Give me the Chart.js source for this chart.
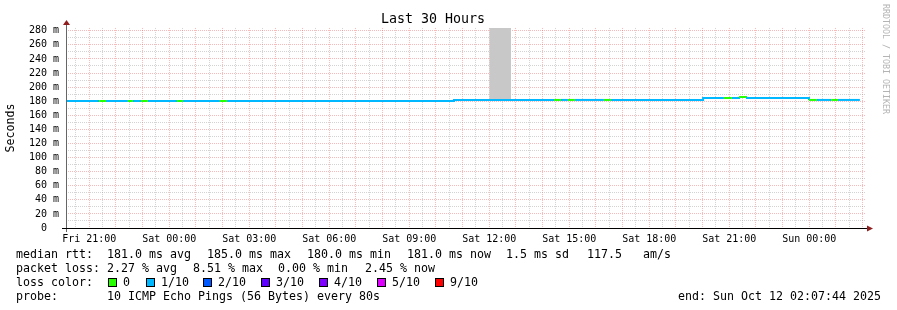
<!DOCTYPE html>
<html>
<head>
<meta charset="utf-8">
<script src="https://cdn.jsdelivr.net/npm/chart.js@4.4.1/dist/chart.umd.min.js"></script>
<style>
    html, body { margin: 0; padding: 0; background: #fff; }
    #wrap { position: relative; width: 897px; height: 310px; overflow: hidden; background: #fff; }
    #wrap canvas { position: absolute; left: 0; top: 0; }
    .t { position: absolute; font-family: 'DejaVu Sans Mono', monospace; font-size: 11.63px; line-height: 14px; white-space: pre; color: #000; }
    .sq { position: absolute; width: 7px; height: 7px; border: 1px solid #000; top: 278px; }
    #credit { position: absolute; left: 881px; top: 4px; writing-mode: vertical-rl; font-family: 'DejaVu Sans Mono', monospace; font-size: 8.3px; line-height: 10px; color: #b4b4b4; white-space: pre; }
</style>
</head>
<body>
<div id="wrap">
    <canvas id="chart" width="897" height="310"></canvas>
    <div id="legend"></div>
    <div id="credit">RRDTOOL / TOBI OETIKER</div>
</div>
<script>
// time is in hours since Fri 00:00
const startTime = 20 + 7 / 60 + 44 / 3600;   // Fri 20:07:44
const endTime = startTime + 30;               // Sun 02:07:44

// median rtt steps (ms) and how many of the 10 pings were lost
const segStart = [20.13, 21.37, 21.63, 22.45, 22.64, 22.94, 23.20, 24.29, 24.52, 25.90, 26.17,
                  34.68, 38.43, 38.69, 38.95, 39.22, 40.30, 40.57,
                  44.02, 44.80, 45.10, 45.37, 45.63,
                  47.99, 48.29, 48.82, 49.08];
const segEnd = 49.90;
const medianRtt = [180.3, 180.3, 180.3, 180.3, 180.3, 180.3, 180.3, 180.3, 180.3, 180.3, 180.3,
                   181.8, 181.8, 181.8, 181.8, 181.8, 181.8, 181.8,
                   184.6, 184.6, 184.6, 186.0, 184.6,
                   181.8, 181.8, 181.8, 181.8];
const lossLevel = [1, 0, 1, 0, 1, 0, 1, 0, 1, 0, 1,
                   1, 0, 1, 0, 1, 0, 1,
                   1, 0, 1, 0, 1,
                   0, 1, 0, 1];

// smoke that runs off the top of the graph
const smokeTimes = [36.00, 36.82];
const smokeLow = [181.8, 181.8];
const smokeHigh = [300, 300];

const lossLabels = ['0', '1/10', '2/10', '3/10', '4/10', '5/10', '9/10'];
const lossColors = ['#26ff00', '#00b8ff', '#0059ff', '#5e00ff', '#7e00ff', '#dd00ff', '#ff0000'];

const xTickLabels = ['Fri 21:00', 'Sat 00:00', 'Sat 03:00', 'Sat 06:00', 'Sat 09:00',
                     'Sat 12:00', 'Sat 15:00', 'Sat 18:00', 'Sat 21:00', 'Sun 00:00'];
const yTickLabels = ['0  ', '20 m', '40 m', '60 m', '80 m', '100 m', '120 m', '140 m',
                     '160 m', '180 m', '200 m', '220 m', '240 m', '260 m', '280 m'];

const rttStats = ['181.0 ms avg', '185.0 ms max', '180.0 ms min', '181.0 ms now', '1.5 ms sd', '117.5', 'am/s'];
const lossStats = ['2.27 % avg', '8.51 % max', '0.00 % min', '2.45 % now'];
const probeText = '10 ICMP Echo Pings (56 Bytes) every 80s';
const endText = 'end: Sun Oct 12 02:07:44 2025';

const MONO = "'DejaVu Sans Mono', monospace";
const majorGrid = 'rgba(235, 70, 70, 0.38)';
const minorGrid = 'rgba(140, 140, 140, 0.38)';

// legend below the graph
const legend = document.getElementById('legend');
const addText = (txt, x, y) => {
    const d = document.createElement('div');
    d.className = 't';
    d.textContent = txt;
    d.style.left = x + 'px';
    d.style.top = y + 'px';
    legend.appendChild(d);
};
addText('median rtt:', 16, 247);
[107, 207, 307, 407, 506, 587, 643].forEach((x, i) => addText(rttStats[i], x, 247));
addText('packet loss:', 16, 261);
[107, 193, 278, 365].forEach((x, i) => addText(lossStats[i], x, 261));
addText('loss color:', 16, 275);
[108, 146, 203, 261, 319, 377, 435].forEach((x, i) => {
    const sq = document.createElement('div');
    sq.className = 'sq';
    sq.style.left = x + 'px';
    sq.style.background = lossColors[i];
    legend.appendChild(sq);
    addText(lossLabels[i], x + 15, 275);
});
addText('probe:', 16, 289);
addText(probeText, 107, 289);
addText(endText, 678, 289);

// axis lines with the little arrow heads
const axisArrows = {
    id: 'axisArrows',
    afterDraw(chart) {
        const { ctx, chartArea: a } = chart;
        ctx.save();
        ctx.lineWidth = 1;
        ctx.strokeStyle = '#666';
        ctx.beginPath();
        ctx.moveTo(a.left + 0.5, a.bottom + 4);
        ctx.lineTo(a.left + 0.5, a.top - 3);
        ctx.stroke();
        ctx.strokeStyle = '#000';
        ctx.beginPath();
        ctx.moveTo(a.left - 4, a.bottom + 0.5);
        ctx.lineTo(a.right + 2, a.bottom + 0.5);
        ctx.stroke();
        ctx.fillStyle = '#8f1f1f';
        ctx.beginPath();
        ctx.moveTo(a.left - 3, a.top - 3);
        ctx.lineTo(a.left + 4, a.top - 3);
        ctx.lineTo(a.left + 0.5, a.top - 8);
        ctx.closePath();
        ctx.fill();
        ctx.beginPath();
        ctx.moveTo(a.right + 1, a.bottom - 2.5);
        ctx.lineTo(a.right + 1, a.bottom + 3.5);
        ctx.lineTo(a.right + 7, a.bottom + 0.5);
        ctx.closePath();
        ctx.fill();
        ctx.restore();
    }
};

// in Chart.js 'before' stepping each point's value holds until the next point
const medianPoints = segStart.map((t, i) => ({ x: t, y: medianRtt[i] }));
medianPoints.push({ x: segEnd, y: medianRtt[medianRtt.length - 1] });

new Chart(document.getElementById('chart'), {
    type: 'line',
    data: {
        datasets: [
            {
                label: 'median rtt',
                data: medianPoints,
                stepped: 'before',
                borderWidth: 2,
                borderColor: lossColors[1],
                borderCapStyle: 'butt',
                pointRadius: 0,
                fill: false,
                segment: {
                    borderColor: c => lossColors[lossLevel[c.p0DataIndex]]
                }
            },
            {
                label: 'smoke low',
                data: smokeTimes.map((t, i) => ({ x: t, y: smokeLow[i] })),
                borderWidth: 0,
                pointRadius: 0,
                fill: false
            },
            {
                label: 'smoke high',
                data: smokeTimes.map((t, i) => ({ x: t, y: smokeHigh[i] })),
                borderWidth: 0,
                pointRadius: 0,
                backgroundColor: '#c8c8c8',
                fill: '-1'
            }
        ]
    },
    options: {
        responsive: false,
        animation: false,
        layout: { padding: { left: 0, top: 0, right: 31, bottom: 62 } },
        plugins: {
            legend: { display: false },
            tooltip: { enabled: false },
            title: {
                display: true,
                text: 'Last 30 Hours',
                color: '#000',
                font: { family: MONO, size: 13.3, weight: 'normal', lineHeight: 1.2 },
                padding: { top: 12, bottom: 0 }
            }
        },
        scales: {
            x: {
                type: 'linear',
                min: startTime,
                max: endTime,
                afterBuildTicks: scale => {
                    const ticks = [];
                    for (let h = 20.5; h <= 50; h += 0.5) ticks.push({ value: h });
                    scale.ticks = ticks;
                },
                afterFit: scale => { scale.height = 20; },
                ticks: {
                    autoSkip: false,
                    maxRotation: 0,
                    padding: 5,
                    color: '#000',
                    font: { family: MONO, size: 10 },
                    callback: v => (Number.isInteger(v) && (v - 21) % 3 === 0) ? xTickLabels[(v - 21) / 3] : ''
                },
                grid: {
                    drawTicks: false,
                    color: c => Number.isInteger(c.tick.value) ? majorGrid : minorGrid
                },
                border: { display: false, dash: [1, 1] }
            },
            y: {
                min: 0,
                max: 284,
                afterBuildTicks: scale => {
                    const ticks = [];
                    for (let v = 0; v <= 280; v += 10) ticks.push({ value: v });
                    scale.ticks = ticks;
                },
                afterFit: scale => { scale.width = 66; },
                ticks: {
                    autoSkip: false,
                    padding: 7,
                    color: '#000',
                    font: { family: MONO, size: 10 },
                    callback: v => v % 20 === 0 ? yTickLabels[v / 20] : ''
                },
                grid: {
                    drawTicks: false,
                    color: c => c.tick.value === 0 ? 'rgba(0,0,0,0)' : (c.tick.value % 20 === 0 ? majorGrid : minorGrid)
                },
                border: { display: false, dash: [1, 1] },
                title: {
                    display: true,
                    text: 'Seconds',
                    color: '#000',
                    font: { family: MONO, size: 11.63, lineHeight: 1.2 },
                    padding: { top: 4, bottom: 0 }
                }
            }
        }
    },
    plugins: [axisArrows]
});
</script>
</body>
</html>
